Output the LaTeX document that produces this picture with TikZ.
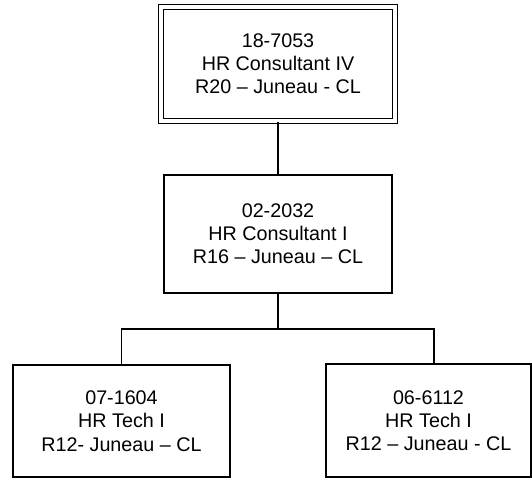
\documentclass[tikz,border=0pt]{standalone}
\usepackage{fontspec}
\setmainfont{Liberation Sans}
\usepackage{tikz}
\usetikzlibrary{positioning,calc}
\tikzset{
  posbox/.style={
      draw,
      line width=1.4pt,
      align=center,
      inner sep=0pt,
      font=\fontsize{14.8}{17.4}\selectfont
    },
  toppos/.style={
      posbox,
      double,
      line width=1.1pt,
      double distance=2.4pt
    }
}
\begin{document}
\begin{tikzpicture}[x=0.75pt,y=-0.75pt]
\useasboundingbox (0,0) rectangle (532,479);
% the shapes
\node[toppos,minimum width=175.5pt,minimum height=85.5pt]
  at (278,64) (sup)
  {18-7053\\HR Consultant IV\\R20 – Juneau - CL};
\node[posbox,minimum width=171pt,minimum height=88.5pt]
  at (278,234) (mid)
  {02-2032\\HR Consultant I\\R16 – Juneau – CL};
\node[posbox,minimum width=162.75pt,minimum height=84pt]
  at (121.5,421) (techa)
  {07-1604\\HR Tech I\\R12- Juneau – CL};
\node[posbox,minimum width=153.75pt,minimum height=84.75pt]
  at (428.5,420.5) (techb)
  {06-6112\\HR Tech I\\R12 – Juneau - CL};
\coordinate (split) at (278,329);

%the lines
\draw[line width=1.4pt]
  (sup.south) -- (mid.north);
\draw[line width=1.4pt]
  (mid.south) -- (split);
\draw[line width=1.4pt]
  (techa.north) |- (split) -| ([xshift=4pt]techb.north);
\end{tikzpicture}
\end{document}
